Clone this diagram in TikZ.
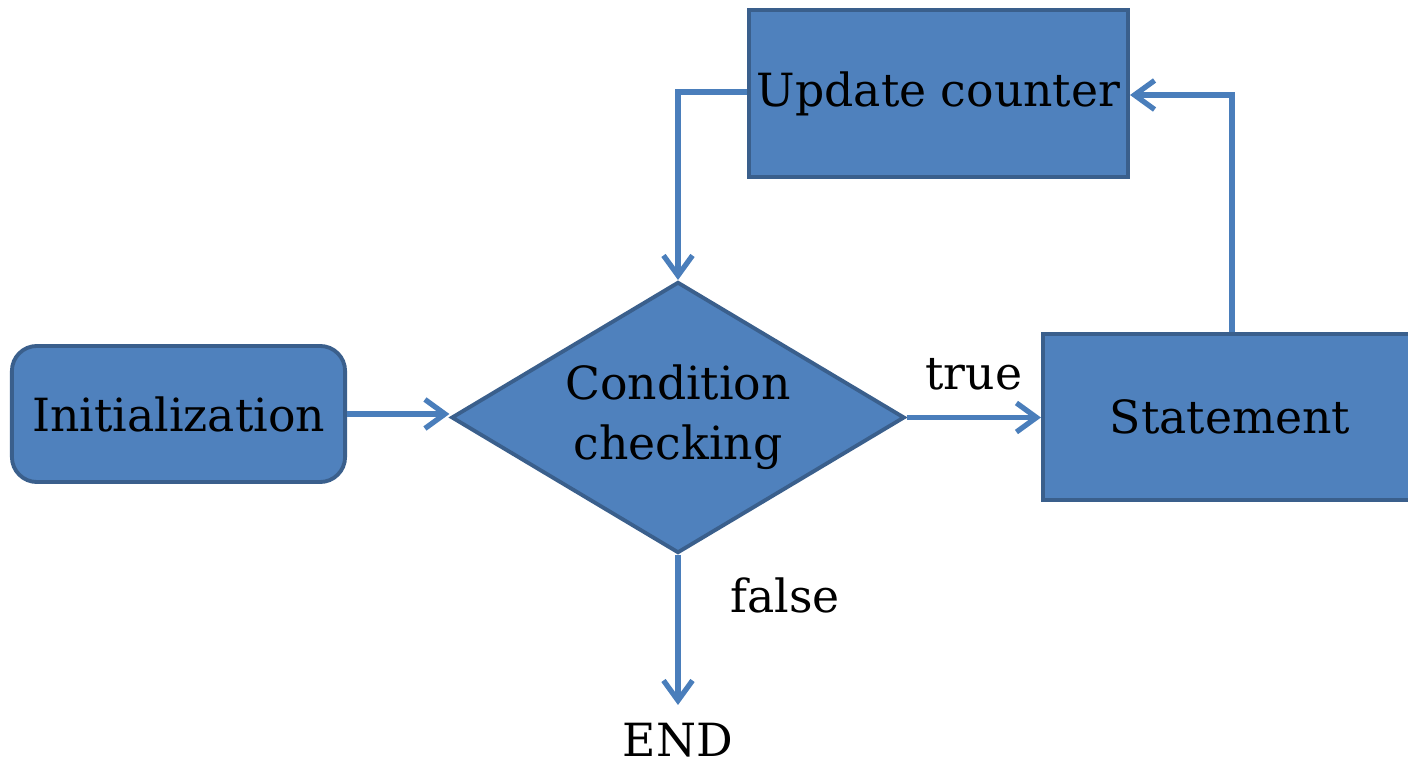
\documentclass[tikz,border=0pt]{standalone}
\usepackage{fontspec}
\setmainfont{DejaVu Serif}
\usetikzlibrary{shapes.geometric,arrows.meta}
\definecolor{boxfill}{HTML}{4F81BD}
\definecolor{boxline}{HTML}{3A5F8C}
\definecolor{flow}{HTML}{4A7EBB}
\tikzset{
  x=0.01cm, y=-0.01cm,
  block/.style={draw=boxline, fill=boxfill, line width=1.1pt, inner sep=0pt,
    font=\fontsize{13}{15.5}\selectfont, text=black, align=center},
  flowline/.style={draw=flow, line width=1.5pt,
    -{Straight Barb[length=2mm,width=2.9mm,line width=1.5pt]}},
  lbl/.style={font=\fontsize{13}{15.5}\selectfont, inner sep=0pt}
}
\begin{document}
\begin{tikzpicture}
\useasboundingbox (0,0) rectangle (1408,764);
% process boxes
\node[block, rounded corners=0.25cm, minimum width=3.33cm, minimum height=1.36cm]
  (init) at (178.5,414) {Initialization};
\node[block, diamond, aspect=1.67, minimum width=4.53cm, minimum height=2.71cm]
  (cond) at (678,417.5) {Condition\\[1.5pt]checking};
\node[block, minimum width=3.79cm, minimum height=1.67cm]
  (upd) at (938.5,93.5) {Update counter};
\node[block, minimum width=3.74cm, minimum height=1.66cm]
  (stmt) at (1230,417) {Statement};
\node[lbl] (endn) at (678,740) {END};
\coordinate (endtip) at (678,705);
\coordinate (loopL) at (678,92);
\coordinate (loopR) at (1232,95);
% connectors
\draw[flowline] (init.east) -- (init.east -| cond.west);
\draw[flowline] (cond.east) -- node[lbl, above=7pt] (truel) {true} (cond.east -| stmt.west);
\draw[flowline] (cond.south) -- (endtip);
\node[lbl] (falsel) at (785,595) {false};
\draw[flowline] (stmt.north -| loopR) -- (loopR) -- (upd.east |- loopR);
\draw[flowline] (upd.west |- loopL) -- (loopL) -- (cond.north);
\end{tikzpicture}
\end{document}
